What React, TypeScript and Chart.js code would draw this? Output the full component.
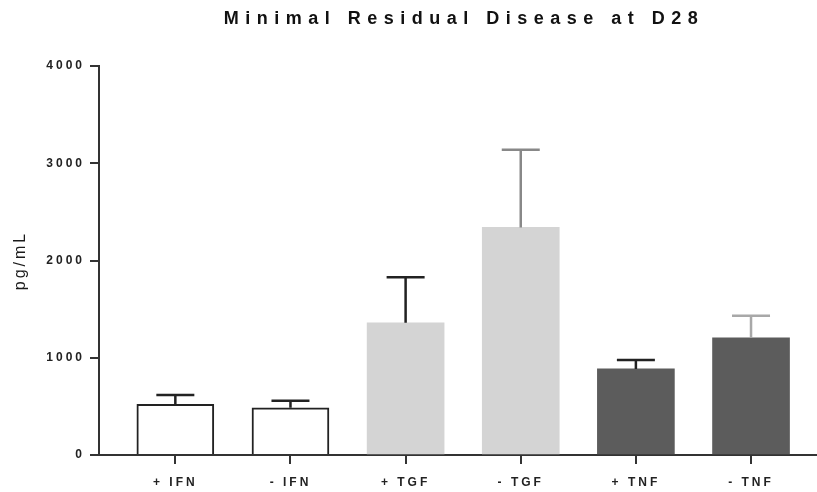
import React, { useEffect, useRef } from 'react';
import { Chart, registerables } from 'chart.js';

Chart.register(...registerables);

const title = 'Minimal Residual Disease at D28';
const yTitle = 'pg/mL';
const categories = ['+ IFN', '- IFN', '+ TGF', '- TGF', '+ TNF', '- TNF'];
const means = [520, 485, 1360, 2340, 885, 1205];
const errors = [97, 73, 467, 799, 92, 227];
const yTicks = [0, 1000, 2000, 3000, 4000];
const fills = ['#ffffff', '#ffffff', '#d4d4d4', '#d4d4d4', '#5c5c5c', '#5c5c5c'];
const borders = ['#222222', '#222222', '#d4d4d4', '#d4d4d4', '#5c5c5c', '#5c5c5c'];
const borderWidths = [2, 2, 0, 0, 0, 0];
const errColors = ['#222222', '#222222', '#222222', '#888888', '#222222', '#a8a8a8'];

const FONT = "'Liberation Sans', Arial, sans-serif";

const spacingPlugin = {
  id: 'spacing',
  beforeDraw(chart: any) {
    chart.ctx.letterSpacing = '3px';
  },
};

const errorBarPlugin = {
  id: 'errorBars',
  afterDatasetsDraw(chart: any) {
    const meta = chart.getDatasetMeta(0);
    const y = chart.scales.y;
    const ctx = chart.ctx;
    meta.data.forEach((bar: any, i: number) => {
      const x = bar.x;
      const top = y.getPixelForValue(means[i]);
      const cap = y.getPixelForValue(means[i] + errors[i]);
      ctx.save();
      ctx.strokeStyle = errColors[i];
      ctx.lineWidth = 2.5;
      ctx.beginPath();
      ctx.moveTo(x, top);
      ctx.lineTo(x, cap);
      ctx.moveTo(x - 19, cap);
      ctx.lineTo(x + 19, cap);
      ctx.stroke();
      ctx.restore();
    });
  },
};

const titlePlugin = {
  id: 'customTitle',
  afterDraw(chart: any) {
    const ctx = chart.ctx;
    const area = chart.chartArea;
    ctx.save();
    ctx.letterSpacing = '6.5px';
    ctx.font = `bold 18px ${FONT}`;
    ctx.fillStyle = '#111111';
    ctx.textAlign = 'center';
    ctx.textBaseline = 'middle';
    ctx.fillText(title, (area.left + area.right) / 2 + 6, 19);
    ctx.restore();
  },
};

export default function App() {
  const ref = useRef<HTMLCanvasElement>(null);

  useEffect(() => {
    if (!ref.current) return;
    const chart = new Chart(ref.current, {
      type: 'bar',
      data: {
        datasets: [
          {
            data: means.map((m, i) => ({ x: i + 1, y: m })),
            backgroundColor: fills,
            borderColor: borders,
            borderWidth: borderWidths,
            borderSkipped: 'start',
            barThickness: 77,
          },
        ],
      },
      options: {
        animation: false,
        responsive: true,
        maintainAspectRatio: false,
        layout: { padding: { top: 66, left: 0, right: 0, bottom: 0 } },
        plugins: {
          legend: { display: false },
          title: { display: false },
          tooltip: { enabled: false },
        },
        scales: {
          x: {
            type: 'linear',
            offset: false,
            min: 0.337,
            max: 6.573,
            afterBuildTicks: (scale: any) => {
              scale.ticks = categories.map((_, i) => ({ value: i + 1 }));
            },
            afterFit: (scale: any) => {
              scale.height = 37;
            },
            ticks: {
              autoSkip: false,
              maxRotation: 0,
              padding: 11,
              color: '#222',
              font: { family: FONT, size: 12, weight: 'bold' },
              callback: (v: any) => categories[Math.round(v) - 1] ?? '',
            },
            grid: {
              display: true,
              offset: false,
              drawOnChartArea: false,
              drawTicks: true,
              tickLength: 9,
              color: '#333',
              lineWidth: 2,
            },
            border: { display: true, color: '#333', width: 2 },
          },
          y: {
            min: 0,
            max: 4000,
            afterBuildTicks: (scale: any) => {
              scale.ticks = yTicks.map((v) => ({ value: v }));
            },
            afterFit: (scale: any) => {
              scale.width = 99;
            },
            ticks: {
              padding: 5,
              color: '#222',
              font: { family: FONT, size: 12, weight: 'bold' },
              callback: (v: any) => String(v),
            },
            grid: {
              display: true,
              drawOnChartArea: false,
              drawTicks: true,
              tickLength: 9,
              color: '#333',
              lineWidth: 2,
            },
            border: { display: true, color: '#333', width: 2 },
            title: {
              display: true,
              text: yTitle,
              color: '#1a1a1a',
              font: { family: FONT, size: 16 },
              padding: { top: 11, bottom: 0 },
            },
          },
        },
      },
      plugins: [spacingPlugin, errorBarPlugin, titlePlugin],
    } as any);
    return () => chart.destroy();
  }, []);

  return (
    <div style={{ position: 'fixed', left: 0, top: 0, width: 817, height: 492, background: '#fff' }}>
      <canvas ref={ref} />
    </div>
  );
}
